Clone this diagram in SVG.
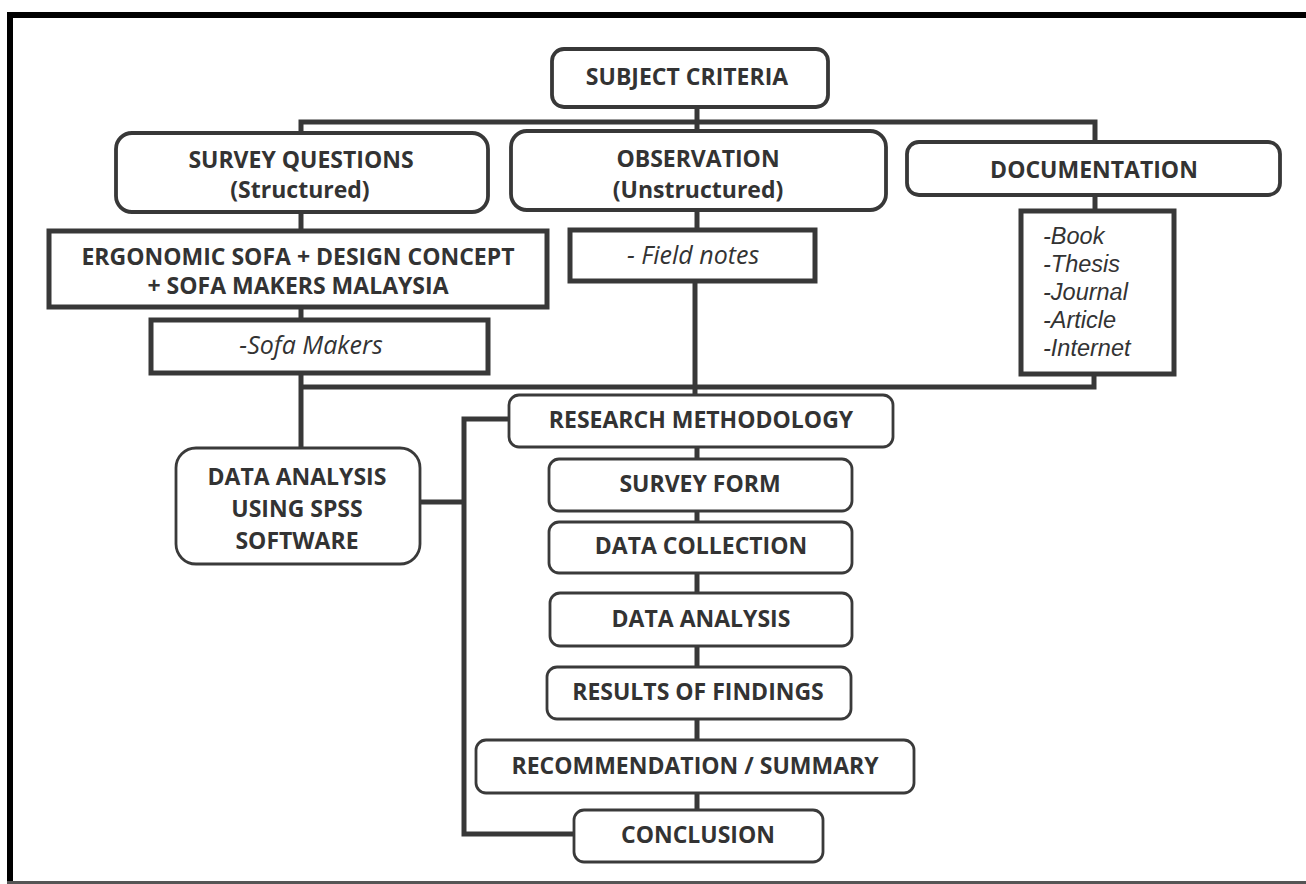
<svg xmlns="http://www.w3.org/2000/svg" width="1306" height="884" viewBox="0 0 1306 884">
<style>
.rb{fill:#fff;stroke:#383838;stroke-width:3.8}
.rt{fill:#fff;stroke:#3a3a3a;stroke-width:2.8}
.sb{fill:#fff;stroke:#383838;stroke-width:5}
.ln{stroke:#383838;stroke-width:5;fill:none}
.t{font-family:"Open Sans","Liberation Sans",sans-serif;font-weight:bold;font-size:23px;fill:#333;text-anchor:middle}
.i{font-family:"Open Sans","Liberation Sans",sans-serif;font-style:italic;font-size:25px;fill:#333}
.li{font-family:"Liberation Sans","Open Sans",sans-serif;font-style:italic;font-size:23.5px;fill:#333}
</style>
<rect x="0" y="0" width="1306" height="884" fill="#fff"/>
<g id="frame">
<rect x="7" y="12" width="1299" height="6" fill="#000"/>
<rect x="7" y="12" width="6" height="872" fill="#000"/>
<rect x="7" y="881" width="1299" height="3" fill="#555"/>
</g>
<g id="connectors" class="ln">
<path d="M697,107 V131"/>
<path d="M301,133 V122 H1095 V142"/>
<path d="M301,212 V231"/>
<path d="M301,307 V320"/>
<path d="M301,373 V448"/>
<path d="M301,387 H1094 V374"/>
<path d="M1095,195 V211"/>
<path d="M697,210 V230"/>
<path d="M695,282 V395"/>
<path d="M420,502 H464"/>
<path d="M509,419 H464 V834 H574"/>
<path d="M697,447 V459 M697,511 V522 M697,573 V593 M697,646 V667 M697,719 V740 M697,793 V810"/>
</g>
<g id="subject-criteria">
<rect class="rb" x="552" y="49" width="276" height="58" rx="12"/>
<text class="t" x="687" y="85" font-size="26.5">SUBJECT CRITERIA</text>
</g>
<g id="survey-questions">
<rect class="rb" x="116" y="133" width="372" height="79" rx="16"/>
<text class="t" x="301" y="168">SURVEY QUESTIONS</text>
<text class="t" x="300" y="198">(Structured)</text>
</g>
<g id="observation">
<rect class="rb" x="511" y="131" width="375" height="79" rx="16"/>
<text class="t" x="698" y="167">OBSERVATION</text>
<text class="t" x="698" y="198">(Unstructured)</text>
</g>
<g id="documentation">
<rect class="rb" x="907" y="142" width="373" height="53" rx="12"/>
<text class="t" x="1094" y="178" font-size="27">DOCUMENTATION</text>
</g>
<g id="ergonomic">
<rect class="sb" x="49" y="231" width="498" height="76"/>
<text class="t" x="298" y="265">ERGONOMIC SOFA + DESIGN CONCEPT</text>
<text class="t" x="298" y="294">+ SOFA MAKERS MALAYSIA</text>
</g>
<g id="sofa-makers">
<rect class="sb" x="151" y="320" width="337" height="53"/>
<text class="i" x="311" y="354" text-anchor="middle" font-size="27">-Sofa Makers</text>
</g>
<g id="field-notes">
<rect class="sb" x="570" y="230" width="245" height="51"/>
<text class="i" x="627" y="264">- Field notes</text>
</g>
<g id="doc-list">
<rect class="sb" x="1021" y="211" width="153" height="163"/>
<text class="li" x="1043" y="244">-Book</text>
<text class="li" x="1043" y="272">-Thesis</text>
<text class="li" x="1043" y="300">-Journal</text>
<text class="li" x="1043" y="328">-Article</text>
<text class="li" x="1043" y="356">-Internet</text>
</g>
<g id="spss">
<rect class="rt" x="176" y="448" width="244" height="116" rx="20"/>
<text class="t" x="297" y="485">DATA ANALYSIS</text>
<text class="t" x="297" y="517">USING SPSS</text>
<text class="t" x="297" y="549">SOFTWARE</text>
</g>
<g id="research-methodology">
<rect class="rt" x="509" y="395" width="384" height="52" rx="10"/>
<text class="t" x="701" y="428">RESEARCH METHODOLOGY</text>
</g>
<g id="survey-form">
<rect class="rt" x="549" y="459" width="303" height="52" rx="10"/>
<text class="t" x="700" y="492">SURVEY FORM</text>
</g>
<g id="data-collection">
<rect class="rt" x="549" y="522" width="303" height="51" rx="10"/>
<text class="t" x="701" y="554">DATA COLLECTION</text>
</g>
<g id="data-analysis">
<rect class="rt" x="550" y="593" width="302" height="53" rx="10"/>
<text class="t" x="701" y="627">DATA ANALYSIS</text>
</g>
<g id="results">
<rect class="rt" x="547" y="667" width="304" height="52" rx="10"/>
<text class="t" x="698" y="700">RESULTS OF FINDINGS</text>
</g>
<g id="recommendation">
<rect class="rt" x="476" y="740" width="438" height="53" rx="10"/>
<text class="t" x="695" y="774" font-size="24.5">RECOMMENDATION / SUMMARY</text>
</g>
<g id="conclusion">
<rect class="rt" x="574" y="810" width="249" height="52" rx="10"/>
<text class="t" x="698" y="843">CONCLUSION</text>
</g>
</svg>
